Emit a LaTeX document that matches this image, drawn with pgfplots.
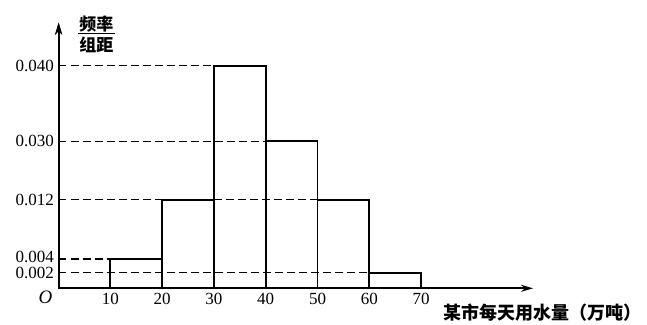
\documentclass[border=0pt]{standalone}
\usepackage{pgfplots}
\pgfplotsset{compat=1.18}
\usetikzlibrary{arrows.meta}
\usepackage{fontspec}
\setmainfont{Liberation Serif}
\newfontfamily\cjk{Noto Sans CJK SC}
\begin{document}
\begin{tikzpicture}
\useasboundingbox (-58.5pt,-35.7pt) rectangle (588.5pt,288.3pt);
\begin{axis}[
  anchor=origin, at={(0pt,0pt)},
  x=5.18pt, y=1pt,
  xmin=0, xmax=91.6, ymin=0, ymax=265.6,
  axis lines=left,
  axis line style={line width=1.7pt, -{Stealth[length=12pt,width=7pt]}},
  xtick={10,20,30,40,50,60,70},
  ytick={15.5,29.3,88.5,147,222.6},
  yticklabels={0.002,\raisebox{4pt}{0.004},0.012,0.030,0.040},
  major tick length=0pt,
  /pgf/number format/assume math mode=true,
  tick label style={font=\fontsize{17}{17}\selectfont},
  xticklabel style={yshift=-1pt},
  yticklabel style={xshift=-1pt},
  clip=false,
]
% y axis (explicit)
\addplot[black, line width=1.7pt, -{Stealth[length=12pt,width=7pt]}] coordinates {(0.05,0) (0.05,265.6)};
% dashed guide lines
\addplot[black, line width=1.3pt, dash pattern=on 8pt off 4pt] coordinates {(0,222.6)(30,222.6)};
\addplot[black, line width=1.3pt, dash pattern=on 8pt off 4pt] coordinates {(0,147)(40,147)};
\addplot[black, line width=1.3pt, dash pattern=on 8pt off 4pt] coordinates {(0,88.5)(20,88.5)};
\addplot[black, line width=1.3pt, dash pattern=on 8pt off 4pt] coordinates {(30,88.5)(50,88.5)};
\addplot[black, line width=1.3pt, dash pattern=on 8pt off 4pt] coordinates {(0,29.3)(10,29.3)};
\addplot[black, line width=1.3pt, dash pattern=on 8pt off 4pt] coordinates {(0,15.5)(60,15.5)};
% histogram
\addplot[ybar interval, draw=black, fill=none, line width=1.7pt] coordinates {
  (10,29.3) (20,88.5) (30,222.6) (40,147) (50,88.5) (60,15.5) (70,0)
};
\node[font=\fontsize{19}{19}\selectfont\itshape] at (axis cs:-2.5,-8.5) {O};
\node[font=\cjk\bfseries\fontsize{17}{17}\selectfont, anchor=center] at (axis cs:7.3,264.5) {频率};
\node[font=\cjk\bfseries\fontsize{17}{17}\selectfont, anchor=center] at (axis cs:7.3,243.5) {组距};
\addplot[black, line width=1.3pt] coordinates {(3.8,254.5)(11,254.5)};
\node[font=\cjk\bfseries\fontsize{18}{18}\selectfont, anchor=east] at (axis cs:113.3,-24.5) {某市每天用水量（万吨）};
\end{axis}
\end{tikzpicture}
\end{document}
